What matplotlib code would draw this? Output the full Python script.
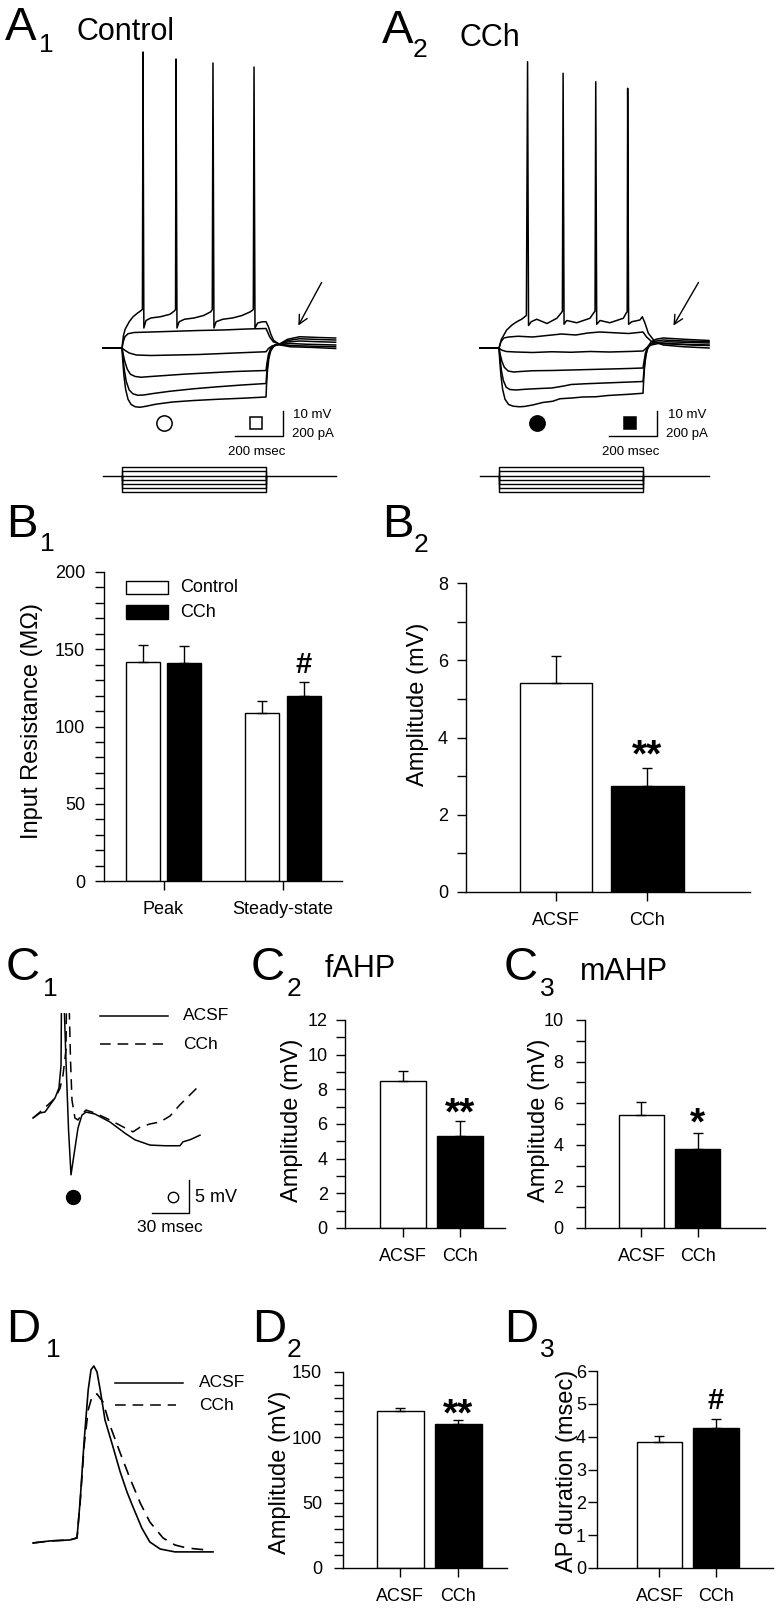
import numpy as np
import matplotlib
matplotlib.use("Agg")
import matplotlib.pyplot as plt
from matplotlib.patches import Rectangle

plt.rcParams['font.family'] = ['Liberation Sans', 'DejaVu Sans']

# ======================= DATA =======================
# ---- A1 (Control): membrane potential (mV) vs time (ms), six current steps
A1_t1 = [0, 80, 86, 93, 110, 126, 145, 160, 165, 167.5, 171, 180, 200, 240, 280, 298, 303, 305, 309, 318,
         340, 380, 420, 450, 456, 459, 463, 472, 500, 540, 580, 615, 627, 630, 634, 645, 665, 680, 690, 700,
         712, 740, 780, 880, 970]
A1_v1 = [-65, -65, -60, -57.5, -54.5, -52.5, -51, -50, -49.5, 53.4, -57, -54, -53, -52.5, -51.5, -50.2, -49.6, 50.6, -57, -54.5,
         -53.5, -53, -52, -50.5, -49.6, 49, -57, -54.5, -53.5, -53, -52, -50.5, -49.6, 47.4, -57, -55, -54.5, -54.5, -56.5, -59.5,
         -62, -63.8, -64.5, -64.8, -65.2]
A1_t2 = [0, 80, 85, 92, 105, 130, 200, 300, 400, 500, 600, 680, 686, 695, 710, 740, 780, 880, 970]
A1_v2 = [-65, -65, -62.5, -60.5, -59.3, -58.8, -58.6, -58.3, -58, -57.8, -57.4, -57.2, -58.5, -60.5, -62.5, -63.6, -64, -64.3, -64.5]
A1_t3 = [0, 80, 90, 110, 140, 200, 300, 400, 500, 600, 680, 690, 705, 740, 780, 850, 970]
A1_v3 = [-65, -65, -65.8, -67, -67.8, -68, -67.8, -67.6, -67.2, -66.8, -66.5, -65.2, -64.2, -63.6, -63.2, -63.5, -63.8]
A1_t4 = [0, 80, 85, 92, 102, 115, 135, 160, 200, 260, 350, 450, 550, 680, 684, 690, 700, 715, 740, 770, 820, 900, 970]
A1_v4 = [-65, -65, -67.5, -70.5, -73.5, -75.5, -76.4, -76.7, -76.4, -76, -75.4, -74.9, -74.4, -74, -71, -67.5, -65, -63.8, -63.5, -62.6, -62.2, -62.5, -62.7]
A1_t5 = [0, 80, 84, 90, 98, 110, 125, 145, 170, 210, 280, 380, 480, 580, 680, 683, 688, 696, 710, 740, 770, 820, 900, 970]
A1_v5 = [-65, -65, -69, -74, -78.5, -81.8, -83.3, -83.9, -83.8, -83.2, -82.3, -81.3, -80.5, -79.8, -79.2, -75, -70, -66.5, -64.3, -63.4, -62, -61.3, -61.6, -61.8]
A1_t6 = [0, 80, 83, 88, 95, 105, 118, 135, 155, 180, 220, 290, 380, 480, 580, 680, 682, 686, 692, 700, 715, 740, 770, 820, 900, 970]
A1_v6 = [-65, -65, -70, -76, -81.5, -85.5, -87.6, -88.5, -88.7, -88.3, -87.5, -86.6, -86, -85.5, -85.1, -84.6, -80, -74, -69, -66, -64, -63.2, -61.5, -60.5, -60.8, -61]

# ---- A2 (CCh)
A2_t1 = [0, 80, 90, 112, 134, 154, 174, 194, 199, 203, 214, 237, 280, 321, 339, 344, 347, 351, 362, 404,
         459, 474, 480, 483, 487, 501, 542, 598, 610, 614, 616, 620, 633, 667, 677, 688, 702, 730, 764, 850, 955]
A2_v1 = [-65, -65, -61.5, -57.8, -55.8, -54.5, -53.5, -52, 49.5, -56, -54.5, -53.5, -55.2, -53.1, -51, -50.3, 44.9, -55.5, -54, -54.9,
         -53.1, -51, -50.3, 41.5, -55.5, -54, -54.9, -53.1, -51, -50.5, 38.9, -55.5, -54.5, -53.8, -52.5, -55, -59.1, -62.5, -63.8, -64.5, -65]
A2_t2 = [0, 80, 88, 100, 120, 160, 220, 280, 340, 400, 450, 500, 560, 620, 680, 694, 714, 744, 800, 880, 955]
A2_v2 = [-65, -65, -62.5, -61, -60.6, -60.3, -60.6, -60, -59.4, -59.8, -59, -58.6, -58.9, -59.2, -58.6, -60.5, -62.3, -63.1, -63.3, -63.6, -63.8]
A2_t3 = [0, 80, 90, 110, 150, 220, 300, 380, 460, 540, 620, 680, 694, 714, 744, 800, 880, 955]
A2_v3 = [-65, -65, -65.8, -66.4, -66.6, -66.8, -66.5, -66.7, -66.4, -66.6, -66.4, -66.2, -65, -63.8, -63.2, -63.4, -63.8, -64]
A2_t4 = [0, 80, 85, 92, 102, 118, 140, 170, 220, 300, 380, 460, 540, 620, 680, 684, 690, 699, 714, 739, 774, 850, 955]
A2_v4 = [-65, -65, -67.5, -70.3, -72.7, -74.2, -74.6, -74.4, -74.1, -74, -73.8, -73.6, -73.4, -73.2, -73, -70.5, -67, -64.5, -63.3, -62.8, -62.5, -62.7, -63]
A2_t5 = [0, 80, 84, 90, 98, 110, 125, 150, 190, 250, 300, 350, 380, 440, 520, 600, 680, 683, 688, 696, 709, 729, 764, 850, 955]
A2_v5 = [-65, -65, -69, -74, -78, -80.7, -81.6, -81.8, -81.5, -81.2, -81, -80.2, -79.6, -79.3, -79, -78.7, -78.4, -75, -70, -66, -63.5, -62.3, -61.8, -62.2, -62.5]
A2_t6 = [0, 80, 83, 88, 95, 105, 120, 140, 165, 185, 220, 262, 304, 334, 384, 429, 484, 534, 569, 624,
         680, 682, 686, 692, 700, 714, 734, 764, 850, 955]
A2_v6 = [-65, -65, -70, -76, -81.5, -85.5, -87.6, -88.3, -88.5, -88.4, -87.8, -86.8, -86.3, -85.3, -85, -84.6, -84.5, -84, -83.8, -83.5,
         -83.1, -79, -73, -68, -64.5, -62.5, -61.5, -61, -61.5, -62]

STEP_ON_MS, STEP_OFF_MS = 80, 680
STIM_LEVELS_PA = [66, 33, -33, -66, -99, -132]
A1_STIM_END, A2_STIM_END = 972, 955

# ---- B1: input resistance (MOhm)
B1_groups = ['Peak', 'Steady-state']
B1_control = [142, 109]
B1_control_err = [10.5, 7.5]
B1_cch = [141, 120]
B1_cch_err = [11, 8.5]

# ---- B2: rebound amplitude (mV)
CATS = ['ACSF', 'CCh']
B2_vals = [5.4, 2.75]
B2_errs = [0.7, 0.47]

# ---- C1: AHP traces (ms, mV relative to pre-spike level)
C1_acsf_t = [0, 5.7, 9.8, 13.8, 17.9, 21.1, 22.8, 23.6, 25.2, 26.8, 28.9, 30.9, 33.3, 36.6, 39.8, 43.1, 50.4,
             62.6, 74.8, 82.9, 95.1, 107.3, 119.5, 122, 127.6, 135.8]
C1_acsf_v = [0, 0.76, 0.91, 1.97, 3.03, 4.55, 8.0, 30, 17.9, 8.8, -1.8, -8.6, -5.6, -1.5, 0.45, 0.9, 0.6,
             -0.6, -2.3, -3.3, -4.1, -4.2, -4.2, -3.6, -3.3, -2.6]
C1_cch_t = [0, 5.7, 12.2, 17.9, 22, 24.4, 26.8, 28, 29.3, 30.5, 31.7, 34.1, 36.6, 39.8, 43.1, 50.4, 62.6,
            74.8, 81.3, 87, 95.1, 103.3, 111.4, 119.5, 127.6, 135.8]
C1_cch_v = [0, 0.9, 2.0, 3.0, 4.5, 6.5, 10.3, 30, 17.9, 8.8, 2.7, 0, -0.3, 0.6, 1.2, 0.76, -0.3,
            -1.5, -2.1, -1.4, -0.9, -0.6, 0.3, 2.0, 3.5, 5.0]

C2_vals = [8.5, 5.3]
C2_errs = [0.55, 0.9]
C3_vals = [5.45, 3.8]
C3_errs = [0.6, 0.78]

# ---- D1: action potentials (ms, mV above rest)
D1_acsf_t = [0, 2.1, 4.6, 5.5, 5.9, 6.4, 6.9, 7.25, 7.6, 8.0, 8.4, 9.0, 10.0, 10.9, 11.75, 12.5, 13.6, 14.6, 15.9, 17.75, 22.5]
D1_acsf_v = [-1.4, 0, 0.7, 2.1, 28.5, 70.1, 104.9, 118.8, 121.5, 117.4, 104.9, 84.0, 65.3, 47.9, 34.0, 23.6, 9.0, -0.7, -5.6, -7.6, -7.6]
D1_cch_t = [0, 2.1, 4.6, 5.5, 5.9, 6.4, 6.9, 7.4, 8.0, 8.75, 9.6, 10.9, 12.1, 13.4, 14.6, 16.25, 17.75, 19.25, 21.75]
D1_cch_v = [-1.4, 0, 0.7, 2.1, 27.1, 66.7, 91.0, 100.7, 102.1, 96.5, 80.6, 61.1, 43.8, 26.4, 13.2, 2.1, -2.8, -4.9, -6.3]

D2_vals = [120, 110]
D2_errs = [2.3, 3.1]
D3_vals = [3.84, 4.26]
D3_errs = [0.18, 0.28]

# ======================= FIGURE =======================
W, H = 778, 1611
fig = plt.figure(figsize=(W / 100, H / 100), dpi=100)
fig.patch.set_facecolor('white')


def px_axes(x0, y0, x1, y1):
    return fig.add_axes([x0 / W, 1 - y1 / H, (x1 - x0) / W, (y1 - y0) / H])


def ftext(x, y, s, **kw):
    fig.text(x / W, 1 - y / H, s, **kw)


def panel_label(x, y, letter, sub, sx, sy, title=None, tx=None, ty=None):
    ftext(x, y, letter, fontsize=34, va='baseline', ha='left')
    ftext(sx, sy, sub, fontsize=19, va='baseline', ha='left')
    if title:
        ftext(tx, ty, title, fontsize=22, va='baseline', ha='left')


LW_TR = 1.1
YLAB_FS = 17


# ---------------- A panels ----------------
def trace_panel(box, traces, stim_box, stim_end, filled, sb_x, txt_x, arrow_from, arrow_to):
    ax = px_axes(*box)
    ax.set_xlim(-11.7, 1009)
    ax.set_ylim(-127.8, 58.2)
    ax.axis('off')
    for t, v in traces:
        ax.plot(t, v, color='black', lw=LW_TR, solid_joinstyle='round')
    # scale bars: 10 mV / 200 ms
    ax.plot([sb_x - 200, sb_x, sb_x], [-100.2, -100.2, -90.2], color='black', lw=1.0)
    fc = 'black' if filled else 'white'
    ax.plot([sb_x - 584 + STEP_ON_MS + 7], [-95], marker='o', ms=11, mfc=fc, mec='black', mew=1.1)
    ax.plot([sb_x - 113], [-95], marker='s', ms=8.5, mfc=fc, mec='black', mew=1.1)
    ax.text(txt_x, -91.8, '10 mV', fontsize=9.5, va='center', ha='left')
    ax.text(txt_x - 5, -99.5, '200 pA', fontsize=9.5, va='center', ha='left')
    ax.text(sb_x - 110, -106.6, '200 msec', fontsize=9.5, va='center', ha='center')
    ax.annotate('', xy=arrow_to, xytext=arrow_from,
                arrowprops=dict(arrowstyle='->', lw=1.0, color='black', mutation_scale=16))
    # current steps
    sa = px_axes(*stim_box)
    sa.set_xlim(-11.7, 1009)
    sa.set_ylim(-195.2, 164.8)
    sa.axis('off')
    sa.plot([0, stim_end], [0, 0], color='black', lw=1.0)
    for L in STIM_LEVELS_PA:
        sa.plot([STEP_ON_MS, STEP_ON_MS, STEP_OFF_MS, STEP_OFF_MS],
                [0, L, L, 0], color='black', lw=1.0)
    return ax


A1_traces = [(A1_t1, A1_v1), (A1_t2, A1_v2), (A1_t3, A1_v3), (A1_t4, A1_v4), (A1_t5, A1_v5), (A1_t6, A1_v6)]
A2_traces = [(A2_t1, A2_v1), (A2_t2, A2_v2), (A2_t3, A2_v3), (A2_t4, A2_v4), (A2_t5, A2_v5), (A2_t6, A2_v6)]

trace_panel((100, 40, 345, 505), A1_traces, (100, 455, 345, 500), A1_STIM_END, False,
            751, 794, (917, -37.8), (809, -57))
trace_panel((477, 40, 722, 505), A2_traces, (477, 455, 722, 500), A2_STIM_END, True,
            737, 782, (917, -37.8), (801, -57))

panel_label(5, 40, 'A', '1', 39, 52, 'Control', 77, 40)
panel_label(382, 43, 'A', '2', 413, 57, 'CCh', 460, 46)


# ---------------- bar helpers ----------------
def style_axes(ax, ytop, major, minor, ypad, ylabel, lab_c, box):
    x0, y0, x1, y1 = box
    ax.spines['top'].set_visible(False)
    ax.spines['right'].set_visible(False)
    ax.spines['left'].set_linewidth(1.0)
    ax.spines['bottom'].set_linewidth(1.0)
    ax.set_ylim(0, ytop)
    ax.set_yticks(np.arange(0, ytop + 1e-9, major))
    if minor:
        ax.set_yticks(np.arange(0, ytop + 1e-9, minor), minor=True)
    ax.tick_params(axis='both', which='both', direction='out', length=6.5, width=1.0, labelsize=13)
    ax.tick_params(axis='y', which='major', pad=ypad)
    ax.tick_params(axis='x', which='major', pad=8)
    ax.set_ylabel(ylabel, fontsize=YLAB_FS, va='center')
    ax.yaxis.set_label_coords((lab_c[0] - x0) / (x1 - x0), (y1 - lab_c[1]) / (y1 - y0))
    ax.patch.set_alpha(0)


def two_bar(box, vals, errs, ytop, major, minor, xlim, width, ylabel, lab_c, ypad, sig, sig_fs, sig_off):
    ax = px_axes(*box)
    x = np.arange(len(vals))
    ax.bar(x, vals, width, color=['white', 'black'], edgecolor='black', linewidth=1.0, zorder=2)
    ax.errorbar(x, vals, yerr=[np.zeros(len(vals)), errs], fmt='none', ecolor='black',
                elinewidth=1.0, capsize=3.8, capthick=1.0, zorder=3)
    ax.set_xlim(*xlim)
    ax.set_xticks(x)
    ax.set_xticklabels(CATS)
    style_axes(ax, ytop, major, minor, ypad, ylabel, lab_c, box)
    ax.annotate(sig, xy=(1, vals[1] + errs[1]), xytext=(0, sig_off), textcoords='offset points',
                ha='center', va='baseline', fontsize=sig_fs, fontweight='bold')
    return ax


# ---------------- B1 ----------------
boxB1 = (104, 572, 342, 881)
axB1 = px_axes(*boxB1)
xg = np.arange(len(B1_groups))
off, bw = 0.174, 0.285
axB1.bar(xg - off, B1_control, bw, color='white', edgecolor='black', linewidth=1.0, zorder=2)
axB1.bar(xg + off, B1_cch, bw, color='black', edgecolor='black', linewidth=1.0, zorder=2)
axB1.errorbar(xg - off, B1_control, yerr=[np.zeros(2), B1_control_err], fmt='none', ecolor='black',
              elinewidth=1.0, capsize=3.6, capthick=1.0, zorder=3)
axB1.errorbar(xg + off, B1_cch, yerr=[np.zeros(2), B1_cch_err], fmt='none', ecolor='black',
              elinewidth=1.0, capsize=3.6, capthick=1.0, zorder=3)
axB1.set_xlim(-0.498, 1.494)
axB1.set_xticks(xg)
axB1.set_xticklabels(B1_groups)
style_axes(axB1, 200, 50, 10, 7, 'Input Resistance (M\u03a9)', (32, 721), boxB1)
axB1.annotate('#', xy=(1 + off, B1_cch[1] + B1_cch_err[1]), xytext=(0, 7), textcoords='offset points',
              ha='center', va='baseline', fontsize=21, fontweight='bold')
# legend
axB1.add_patch(Rectangle((-0.314, 185.8), 0.352, 8.4, facecolor='white', edgecolor='black', lw=1.0, clip_on=False))
axB1.add_patch(Rectangle((-0.314, 169.6), 0.352, 9.0, facecolor='black', edgecolor='black', lw=1.0, clip_on=False))
axB1.text(0.138, 189.8, 'Control', fontsize=13, va='center', ha='left')
axB1.text(0.138, 173.8, 'CCh', fontsize=13, va='center', ha='left')
panel_label(6, 537, 'B', '1', 40, 551)

# ---------------- B2 ----------------
two_bar((466, 583, 750, 892), B2_vals, B2_errs, 8, 2, 1, (-0.989, 2.13), 0.8,
        'Amplitude (mV)', (418, 704), 6.5, '**', 28, 0.5)
panel_label(382, 537, 'B', '2', 414, 552)

# ---------------- C1 ----------------
axC1 = px_axes(28, 1013, 260, 1260)
axC1.set_xlim(-4.07, 184.6)
axC1.set_ylim(-21.5, 15.9)
axC1.axis('off')
axC1.plot(C1_acsf_t, C1_acsf_v, color='black', lw=1.1)
axC1.plot(C1_cch_t, C1_cch_v, color='black', lw=1.1, linestyle=(0, (7, 4.5)))
axC1.plot([54.5, 109.8], [15.45, 15.45], color='black', lw=1.1, clip_on=False)
axC1.plot([54.5, 106], [11.2, 11.2], color='black', lw=1.1, linestyle=(0, (7, 4.5)))
axC1.text(122, 15.45, 'ACSF', fontsize=12.5, va='center', ha='left')
axC1.text(122, 11.2, 'CCh', fontsize=12.5, va='center', ha='left')
axC1.plot([32.5], [-12], marker='o', ms=10, mfc='black', mec='black')
axC1.plot([113.8], [-12], marker='o', ms=7.5, mfc='white', mec='black', mew=1.0)
axC1.plot([96.8, 126.8, 126.8], [-14.4, -14.4, -9.4], color='black', lw=1.0)
axC1.text(131.7, -12, '5 mV', fontsize=13, va='center', ha='left')
axC1.text(111.4, -16.6, '30 msec', fontsize=12.5, va='center', ha='center')
panel_label(6, 980, 'C', '1', 43, 996)

# ---------------- C2 / C3 ----------------
two_bar((345, 1020, 505, 1228), C2_vals, C2_errs, 12, 2, 1, (-1.027, 1.8), 0.81,
        'Amplitude (mV)', (292, 1120), 6, '**', 28, -3)
panel_label(251, 980, 'C', '2', 287, 996, 'fAHP', 325, 977)
two_bar((585, 1020, 765, 1228), C3_vals, C3_errs, 10, 2, 1, (-1.0, 2.19), 0.8,
        'Amplitude (mV)', (539, 1120), 9, '*', 28, -1.5)
panel_label(504, 980, 'C', '3', 540, 996, 'mAHP', 580, 980)

# ---------------- D1 ----------------
axD1 = px_axes(28, 1350, 250, 1600)
axD1.set_xlim(-0.625, 27.125)
axD1.set_ylim(-41, 132.6)
axD1.axis('off')
axD1.plot(D1_acsf_t, D1_acsf_v, color='black', lw=1.2)
axD1.plot(D1_cch_t, D1_cch_v, color='black', lw=1.2, linestyle=(0, (7, 4.5)))
axD1.plot([10.25, 18.75], [109.7, 109.7], color='black', lw=1.1)
axD1.plot([10.25, 17.9], [94.4, 94.4], color='black', lw=1.1, linestyle=(0, (7, 4.5)))
axD1.text(20.75, 109.7, 'ACSF', fontsize=12.5, va='center', ha='left')
axD1.text(20.75, 94.4, 'CCh', fontsize=12.5, va='center', ha='left')
panel_label(6, 1342, 'D', '1', 46, 1357)

# ---------------- D2 / D3 ----------------
two_bar((343, 1372, 507, 1568), D2_vals, D2_errs, 150, 50, 10, (-0.99, 1.84), 0.81,
        'Amplitude (mV)', (280, 1472), 8.5, '**', 28, -4)
panel_label(252, 1342, 'D', '2', 287, 1357)
two_bar((597, 1371, 773, 1568), D3_vals, D3_errs, 6, 1, None, (-1.106, 2.01), 0.81,
        'AP duration (msec)', (567, 1471), 1.5, '#', 21, 7)
panel_label(504, 1342, 'D', '3', 540, 1357)

fig.savefig('out.png', dpi=100)
